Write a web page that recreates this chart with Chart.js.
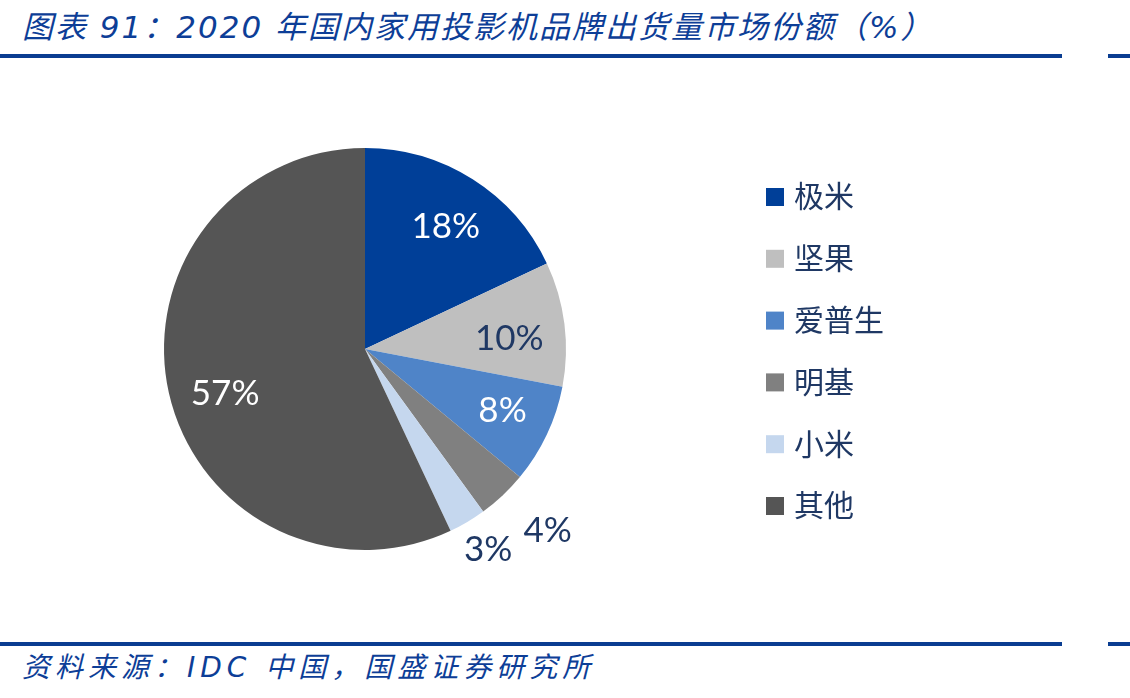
<!DOCTYPE html>
<html><head><meta charset="utf-8">
<script src="https://cdn.jsdelivr.net/npm/chart.js@4"></script>
<style>
html,body{margin:0;padding:0;background:#fff;}
#wrap{position:relative;width:1130px;height:698px;overflow:hidden;}
#c{position:absolute;left:0;top:0;}
.title{position:absolute;left:22px;top:2px;font-family:"DejaVu Sans","Noto Sans CJK SC";font-style:italic;font-size:31px;color:#0d3e97;letter-spacing:2px;white-space:nowrap;}
.src{position:absolute;left:22px;top:645px;font-family:"DejaVu Sans","Noto Sans CJK SC";font-style:italic;font-size:28px;color:#0d3e97;letter-spacing:5px;white-space:nowrap;}
.ln{position:absolute;height:4px;background:#0a3d91;}
</style></head>
<body><div id="wrap">
<div class="title" id="title"></div>
<div class="ln" style="left:0;top:54px;width:1062px"></div>
<div class="ln" style="left:1108px;top:54px;width:22px"></div>
<div class="ln" style="left:0;top:642px;width:1062px"></div>
<div class="ln" style="left:1108px;top:642px;width:22px"></div>
<div class="src" id="src"></div>
<canvas id="c" width="1130" height="698"></canvas>
</div>
<script>
const titleText = "图表 91：2020 年国内家用投影机品牌出货量市场份额（%）";
const sourceText = "资料来源：IDC 中国，国盛证券研究所";
const brands = ["极米", "坚果", "爱普生", "明基", "小米", "其他"];
const shares = [18, 10, 8, 4, 3, 57];
const sliceColors = ["#003f98", "#bfbfbf", "#4f84c8", "#808080", "#c5d7ee", "#555555"];
const labelColors = ["#ffffff", "#1f3864", "#ffffff", "#1f3864", "#1f3864", "#ffffff"];
const labelRadius = [0.73, 0.72, 0.75, 1.28, 1.17, 0.73];
const labelAngleShiftDeg = [1, 3, -1, -2, -1, -5];

document.getElementById('title').textContent = titleText;
document.getElementById('src').textContent = sourceText;

const labelPlugin = {
  id: 'sliceLabels',
  afterDatasetsDraw(chart) {
    const ctx = chart.ctx;
    const meta = chart.getDatasetMeta(0);
    ctx.save();
    ctx.font = '35px Lato';
    ctx.textAlign = 'center';
    ctx.textBaseline = 'middle';
    meta.data.forEach((arc, i) => {
      const p = arc.getProps(['x','y','startAngle','endAngle','outerRadius'], true);
      const mid = (p.startAngle + p.endAngle) / 2 + labelAngleShiftDeg[i] * Math.PI / 180;
      const r = p.outerRadius * labelRadius[i];
      ctx.fillStyle = labelColors[i];
      ctx.fillText(shares[i] + '%', p.x + Math.cos(mid) * r, p.y + Math.sin(mid) * r);
    });
    ctx.restore();
  }
};

const legendPlugin = {
  id: 'sideLegend',
  afterDraw(chart) {
    const ctx = chart.ctx;
    ctx.save();
    ctx.font = '30px "Noto Sans CJK SC"';
    ctx.textBaseline = 'middle';
    ctx.textAlign = 'left';
    chart.data.labels.forEach((lab, i) => {
      const cy = 197 + i * 61.8;
      ctx.fillStyle = chart.data.datasets[0].backgroundColor[i];
      ctx.fillRect(766, cy - 9, 18, 18);
      ctx.fillStyle = '#1f3864';
      ctx.fillText(lab, 794, cy - 1);
    });
    ctx.restore();
  }
};

new Chart(document.getElementById('c'), {
  type: 'pie',
  data: {
    labels: brands,
    datasets: [{ data: shares, backgroundColor: sliceColors, borderWidth: 0 }]
  },
  options: {
    responsive: false,
    animation: false,
    layout: { padding: { left: 164, right: 564, top: 148, bottom: 148 } },
    plugins: { legend: { display: false }, tooltip: { enabled: false } }
  },
  plugins: [labelPlugin, legendPlugin]
});
</script>
</body></html>
